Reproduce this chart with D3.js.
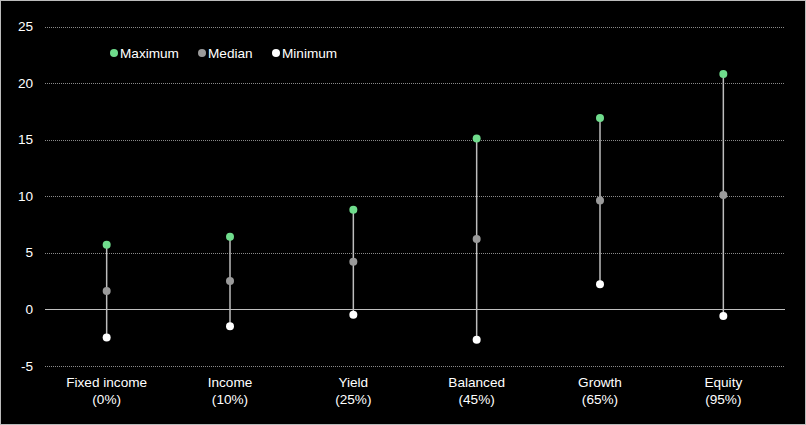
<!DOCTYPE html>
<html><head><meta charset="utf-8">
<script src="https://cdn.jsdelivr.net/npm/d3@7"></script>
<style>
html,body{margin:0;padding:0;background:#000;}
svg{display:block;}
</style></head>
<body>
<script>
const categories = ["Fixed income|(0%)", "Income|(10%)", "Yield|(25%)", "Balanced|(45%)", "Growth|(65%)", "Equity|(95%)"];
const maximum = [5.7, 6.4, 8.8, 15.1, 16.9, 20.8];
const median = [1.6, 2.5, 4.2, 6.2, 9.6, 10.1];
const minimum = [-2.5, -1.5, -0.5, -2.7, 2.2, -0.6];
const yTicks = [-5, 0, 5, 10, 15, 20, 25];
const seriesNames = ["Maximum", "Median", "Minimum"];
const seriesColors = ["#6fdc8c", "#9a9a9a", "#ffffff"];

const W = 806, H = 425;
const FS = 13.6;
const svg = d3.select("body").append("svg").attr("width", W).attr("height", H);
svg.append("rect").attr("x", 0.5).attr("y", 0.5).attr("width", W - 1).attr("height", H - 1)
  .attr("fill", "#000").attr("stroke", "#bbb").attr("stroke-width", 1);

const x = d3.scaleBand().domain(categories).range([45, 785]);
const y = d3.scaleLinear().domain([-5, 25]).range([365.7, 26.5]);
const font = "Liberation Sans, Arial, sans-serif";

// grid
const yAxis = d3.axisLeft(y).tickValues(yTicks).tickSize(0).tickPadding(12).tickFormat(d => String(d));
const ga = svg.append("g").attr("transform", "translate(45,0)").call(yAxis);
ga.select(".domain").remove();
ga.selectAll("text").attr("fill", "#fff").attr("font-size", FS).attr("font-family", font);

svg.append("g").selectAll("line").data(yTicks).join("line")
  .attr("x1", 45).attr("x2", 785)
  .attr("y1", d => Math.round(y(d)) + 0.5).attr("y2", d => Math.round(y(d)) + 0.5)
  .attr("stroke", d => d === 0 ? "#bfbfbf" : "#8a8a8a")
  .attr("stroke-width", 1)
  .attr("stroke-dasharray", d => d === 0 ? null : "1,1");

// x labels
const xl = svg.append("g").selectAll("text").data(categories).join("text")
  .attr("x", d => x(d) + x.bandwidth() / 2)
  .attr("text-anchor", "middle").attr("fill", "#fff")
  .attr("font-size", FS).attr("font-family", font);
xl.append("tspan").attr("x", d => x(d) + x.bandwidth() / 2).attr("y", 387).text(d => d.split("|")[0]);
xl.append("tspan").attr("x", d => x(d) + x.bandwidth() / 2).attr("y", 404).text(d => d.split("|")[1]);

// lines
const cx = (i) => x(categories[i]) + x.bandwidth() / 2;
svg.append("g").selectAll("line").data(categories).join("line")
  .attr("x1", (d, i) => cx(i)).attr("x2", (d, i) => cx(i))
  .attr("y1", (d, i) => y(maximum[i])).attr("y2", (d, i) => y(minimum[i]))
  .attr("stroke", "#bdbdbd").attr("stroke-width", 1.5);

// dots
[maximum, median, minimum].forEach((arr, s) => {
  svg.append("g").selectAll("circle").data(arr).join("circle")
    .attr("cx", (d, i) => cx(i)).attr("cy", d => y(d)).attr("r", 4)
    .attr("fill", seriesColors[s]);
});

// legend
const legX = [114, 202, 276];
const lg = svg.append("g");
seriesNames.forEach((n, i) => {
  lg.append("circle").attr("cx", legX[i]).attr("cy", 53).attr("r", 4).attr("fill", seriesColors[i]);
  lg.append("text").attr("x", legX[i] + 6).attr("y", 58).attr("fill", "#fff")
    .attr("font-size", FS).attr("font-family", font).text(n);
});
</script>
</body></html>
